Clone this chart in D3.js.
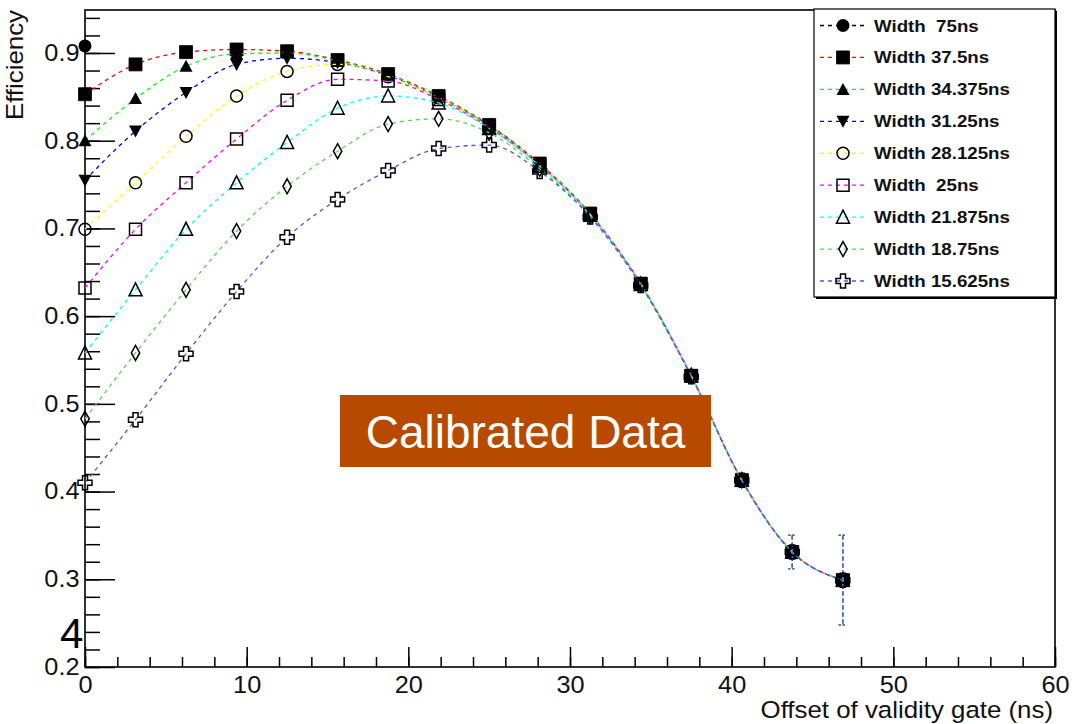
<!DOCTYPE html>
<html>
<head>
<meta charset="utf-8">
<script src="https://cdn.jsdelivr.net/npm/d3@7"></script>
<style>
  html, body { margin: 0; padding: 0; background: #fff; }
  svg { display: block; }
  text { font-family: "Liberation Sans", Arial, sans-serif; }
</style>
</head>
<body>
<svg id="chart" width="1073" height="724"></svg>
<script>
// ---------- data ----------
const offsets = [0, 3.125, 6.25, 9.375, 12.5, 15.625, 18.75, 21.875, 25, 28.125, 31.25, 34.375, 37.5, 40.625, 43.75, 46.875];
const seriesNames = ["Width  75ns", "Width 37.5ns", "Width 34.375ns", "Width 31.25ns", "Width 28.125ns", "Width  25ns", "Width 21.875ns", "Width 18.75ns", "Width 15.625ns"];
const w75     = [0.908, null, null, null, null, null, null, null, null, null, null, null, null, null, null, null];
const w37_5   = [0.853, 0.887, 0.901, 0.904, 0.902, 0.892, 0.876, 0.851, 0.818, 0.774, 0.717, 0.637, 0.532, 0.413, 0.331, 0.299];
const w34_375 = [0.800, 0.848, 0.885, 0.899, 0.900, 0.891, 0.875, 0.850, 0.817, 0.773, 0.717, 0.637, 0.532, 0.413, 0.331, 0.299];
const w31_25  = [0.755, 0.811, 0.855, 0.887, 0.894, 0.889, 0.874, 0.849, 0.817, 0.773, 0.716, 0.637, 0.532, 0.413, 0.331, 0.299];
const w28_125 = [0.699, 0.752, 0.805, 0.851, 0.879, 0.887, 0.873, 0.849, 0.816, 0.773, 0.716, 0.637, 0.532, 0.413, 0.331, 0.299];
const w25     = [0.632, 0.699, 0.752, 0.802, 0.846, 0.870, 0.868, 0.847, 0.815, 0.772, 0.716, 0.637, 0.532, 0.413, 0.331, 0.299];
const w21_875 = [0.558, 0.630, 0.699, 0.752, 0.798, 0.837, 0.851, 0.843, 0.814, 0.771, 0.715, 0.636, 0.532, 0.413, 0.331, 0.299];
const w18_75  = [0.483, 0.558, 0.630, 0.697, 0.748, 0.788, 0.819, 0.825, 0.809, 0.768, 0.714, 0.636, 0.532, 0.413, 0.331, 0.299];
const w15_625 = [0.410, 0.482, 0.557, 0.628, 0.690, 0.733, 0.766, 0.791, 0.795, 0.765, 0.713, 0.635, 0.531, 0.413, 0.331, 0.299];
const errors  = [0, 0, 0, 0, 0, 0, 0, 0, 0, 0, 0, 0, 0, 0.004, 0.019, 0.051];
const seriesColors = ["#000000", "#ff0000", "#00ff00", "#0000ff", "#ffff00", "#ff00ff", "#00ffff", "#59d454", "#5954d9"];
const seriesMarkers = ["fullCircle", "fullSquare", "fullTriUp", "fullTriDown", "openCircle", "openSquare", "openTriUp", "openDiamond", "openCross"];
const xTickLabels = [0, 10, 20, 30, 40, 50, 60];
const yTickLabels = [0.2, 0.3, 0.4, 0.5, 0.6, 0.7, 0.8, 0.9];
const xTitle = "Offset of validity gate (ns)";
const yTitle = "Efficiency";
const overlayText = "Calibrated Data";
const cornerText = "4";

const seriesValues = [w75, w37_5, w34_375, w31_25, w28_125, w25, w21_875, w18_75, w15_625];

// ---------- layout ----------
const svg = d3.select("#chart");
const L = 85, R = 1055, T = 10, B = 667;
const x = d3.scaleLinear().domain([0, 60]).range([L, R]);
const y = d3.scaleLinear().domain([0.2, 0.949]).range([B, T]);
const SX = 1.1; // horizontal stretch of original raster text

function markerPath(type) {
  switch (type) {
    case "fullCircle": case "openCircle": {
      const r = type === "fullCircle" ? 6.5 : 6;
      return `M${-r},0A${r},${r} 0 1,0 ${r},0A${r},${r} 0 1,0 ${-r},0Z`;
    }
    case "fullSquare": return "M-6.5,-6.5H6.5V6.5H-6.5Z";
    case "openSquare": return "M-6,-6H6V6H-6Z";
    case "fullTriUp": return "M0,-6.5L6.5,5.5H-6.5Z";
    case "fullTriDown": return "M0,6.5L6.5,-5.5H-6.5Z";
    case "openTriUp": return "M0,-7L6.5,6H-6.5Z";
    case "openDiamond": return "M0,-7.5L4.2,0L0,7.5L-4.2,0Z";
    case "openCross": return "M-2.5,-7H2.5V-2.5H7V2.5H2.5V7H-2.5V2.5H-7V-2.5H-2.5Z";
  }
}
function styleMarker(sel, type) {
  const filled = type.startsWith("full");
  sel.attr("d", markerPath(type))
     .attr("fill", filled ? "#000" : "none")
     .attr("stroke", filled ? (type === "fullSquare" ? "#000" : "none") : "#000")
     .attr("stroke-width", filled ? 0.8 : 1.5);
}

// ---------- axes ----------
svg.append("rect").attr("x", L).attr("y", T).attr("width", R - L).attr("height", B - T)
   .attr("fill", "none").attr("stroke", "#000").attr("stroke-width", 1.6);

svg.append("g").attr("transform", `translate(0,${B})`)
  .call(d3.axisBottom(x).tickValues(d3.range(0, 61, 2)).tickSize(-10).tickFormat(""))
  .call(g => { g.select(".domain").remove(); g.selectAll("line").attr("stroke-width", 1.5); });
const xAx = svg.append("g").attr("transform", `translate(0,${B})`)
  .call(d3.axisBottom(x).tickValues(xTickLabels).tickSize(-20).tickPadding(10).tickFormat(d3.format("d")))
  .call(g => { g.select(".domain").remove(); g.selectAll("line").attr("stroke-width", 1.5); });
xAx.selectAll("text").attr("font-size", 23).attr("fill", "#111")
   .attr("font-family", "Liberation Sans, Arial, sans-serif")
   .attr("transform", `scale(${SX},1)`);

svg.append("g").attr("transform", `translate(${L},0)`)
  .call(d3.axisLeft(y).tickValues(d3.range(0.2, 0.9491, 0.02)).tickSize(-15).tickFormat(""))
  .call(g => { g.select(".domain").remove(); g.selectAll("line").attr("stroke-width", 1.5); });
const yAx = svg.append("g").attr("transform", `translate(${L},0)`)
  .call(d3.axisLeft(y).tickValues(yTickLabels).tickSize(-30).tickPadding(5).tickFormat(d3.format(".1f")))
  .call(g => { g.select(".domain").remove(); g.selectAll("line").attr("stroke-width", 1.5); });
yAx.selectAll("text").attr("font-size", 23).attr("fill", "#111")
   .attr("font-family", "Liberation Sans, Arial, sans-serif")
   .attr("transform", `scale(${SX},1)`);

svg.append("g").attr("transform", `translate(${R - 2},718) scale(${SX},1)`)
  .append("text").attr("text-anchor", "end").attr("font-size", 23.5).attr("fill", "#111").text(xTitle);
svg.append("g").attr("transform", `translate(23,${T}) rotate(-90) scale(${SX},1)`)
  .append("text").attr("text-anchor", "end").attr("font-size", 23.5).attr("fill", "#111").text(yTitle);

// ---------- series ----------
const line = d3.line().defined(d => d.v != null).x(d => x(d.x)).y(d => y(d.v))
  .curve(d3.curveMonotoneX);

const plot = svg.append("g");
seriesValues.forEach((vals, i) => {
  const data = offsets.map((o, k) => ({ x: o, v: vals[k], e: errors[k] }));
  const pts = data.filter(d => d.v != null);
  const g = plot.append("g");
  if (pts.length > 1) {
    g.append("path").attr("d", line(pts)).attr("fill", "none")
      .attr("stroke", seriesColors[i]).attr("stroke-width", 1.3).attr("stroke-dasharray", "4,4");
  }
  const eb = pts.filter(d => d.e > 0.01);
  g.selectAll("line.err").data(eb).join("line").attr("class", "err")
    .attr("x1", d => x(d.x)).attr("x2", d => x(d.x))
    .attr("y1", d => y(d.v + d.e)).attr("y2", d => y(d.v - d.e))
    .attr("stroke", seriesColors[i]).attr("stroke-width", 1.2).attr("stroke-dasharray", "4,3");
  g.selectAll("line.capt").data(eb).join("line").attr("class", "capt")
    .attr("x1", d => x(d.x) - 4).attr("x2", d => x(d.x) + 4)
    .attr("y1", d => y(d.v + d.e)).attr("y2", d => y(d.v + d.e))
    .attr("stroke", seriesColors[i]).attr("stroke-width", 1.2).attr("stroke-dasharray", "2,2");
  g.selectAll("line.capb").data(eb).join("line").attr("class", "capb")
    .attr("x1", d => x(d.x) - 4).attr("x2", d => x(d.x) + 4)
    .attr("y1", d => y(d.v - d.e)).attr("y2", d => y(d.v - d.e))
    .attr("stroke", seriesColors[i]).attr("stroke-width", 1.2).attr("stroke-dasharray", "2,2");
  g.selectAll("path.mk").data(pts).join("path").attr("class", "mk")
    .attr("transform", d => `translate(${x(d.x)},${y(d.v)})`)
    .call(sel => styleMarker(sel, seriesMarkers[i]));
});

// ---------- legend ----------
const lg = svg.append("g");
const lx0 = 814, ly0 = 9, lw = 241, lh = 288;
lg.append("rect").attr("x", lx0 + 2).attr("y", ly0 + 2).attr("width", lw).attr("height", lh).attr("fill", "#000");
lg.append("rect").attr("x", lx0).attr("y", ly0).attr("width", lw).attr("height", lh)
  .attr("fill", "#fff").attr("stroke", "#000").attr("stroke-width", 1.2);
const rowY = d3.scaleLinear().domain([0, seriesNames.length - 1]).range([25.5, 281]);
seriesNames.forEach((name, i) => {
  const cy = rowY(i);
  lg.append("line").attr("x1", 820).attr("x2", 866).attr("y1", cy).attr("y2", cy)
    .attr("stroke", seriesColors[i]).attr("stroke-width", 1.3).attr("stroke-dasharray", "4,4");
  lg.append("path").attr("transform", `translate(843,${cy})`).call(sel => styleMarker(sel, seriesMarkers[i]));
  lg.append("g").attr("transform", `translate(874,${cy + 6}) scale(${SX},1)`)
    .append("text").attr("font-size", 17).attr("font-weight", "bold").attr("fill", "#111")
    .style("white-space", "pre").text(name);
});

// ---------- overlays ----------
svg.append("rect").attr("x", 340).attr("y", 395).attr("width", 371).attr("height", 72).attr("fill", "#b84a00");
svg.append("text").attr("x", 525.5).attr("y", 448).attr("text-anchor", "middle")
  .attr("font-size", 46).attr("fill", "#fff").text(overlayText);
svg.append("text").attr("x", 60).attr("y", 648).attr("font-size", 42).attr("fill", "#000").text(cornerText);
</script>
</body>
</html>
